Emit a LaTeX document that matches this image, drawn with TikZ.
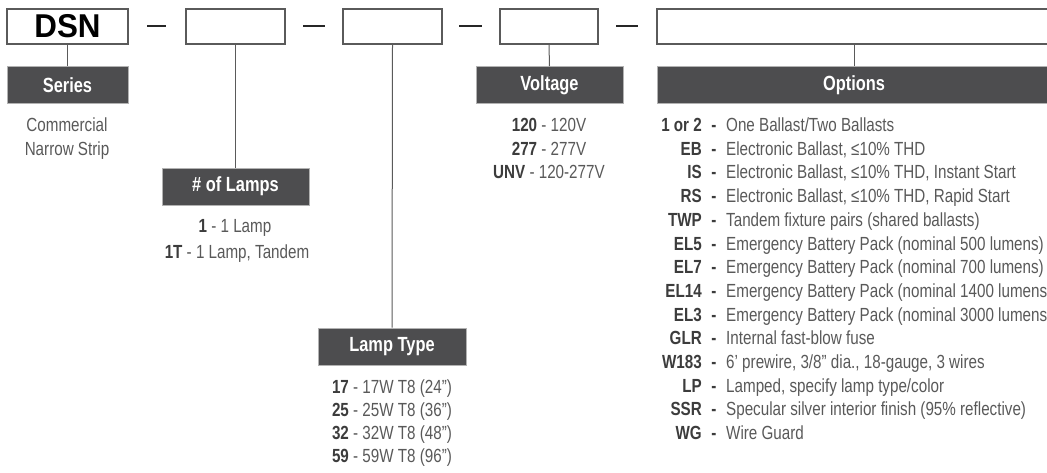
\documentclass[tikz,border=0pt]{standalone}
\usepackage{fontspec}
\setmainfont[FakeStretch=0.8]{Liberation Sans}
\newfontfamily\widefont[FakeStretch=0.95]{Liberation Sans}
\usepackage{xcolor}
\usepackage{tikz}
\usetikzlibrary{positioning}
\definecolor{hdrgray}{HTML}{4D4D4F}
\definecolor{txtgray}{HTML}{595959}
\definecolor{codegray}{HTML}{3C3C3C}
\definecolor{boxgray}{HTML}{5A5A5A}

\begin{document}
\begin{tikzpicture}[x=1pt, y=-1pt,
    codebox/.style={draw=boxgray, line width=2pt, fill=white, minimum height=35pt, inner sep=0pt},
    header/.style={fill=hdrgray, draw=gray!60, line width=0.6pt, minimum height=37pt, inner sep=0pt,
        text=white, font=\fontsize{20.5}{24}\selectfont\bfseries},
    sepdash/.style={line width=2pt, draw=black!85},
    wire/.style={draw=boxgray, line width=1pt},
    item/.style={text=txtgray, font=\fontsize{19}{22}\selectfont, inner sep=0pt, text height=13pt, text depth=0pt}]
    \clip (0,0) rectangle (1047,472);

    % Casillas del codigo
    \node[codebox, minimum width=121pt, font=\widefont\fontsize{33}{36}\selectfont\bfseries] (dsn) at (67.5,26.5) {DSN};
    \node[codebox, minimum width=99pt] (lamps) at (235.5,26.5) {};
    \node[codebox, minimum width=99pt] (ltype) at (392.5,26.5) {};
    \node[codebox, minimum width=98pt] (volt) at (549,26.5) {};
    \node[codebox, minimum width=394pt] (opts) at (854,26.5) {};

    % Guiones
    \coordinate (d1a) at (147,26); \coordinate (d1b) at (166,26);
    \coordinate (d2a) at (303,26); \coordinate (d2b) at (325,26);
    \coordinate (d3a) at (459,26); \coordinate (d3b) at (482,26);
    \coordinate (d4a) at (616,26); \coordinate (d4b) at (638,26);
    \draw[sepdash] (d1a) -- (d1b);
    \draw[sepdash] (d2a) -- (d2b);
    \draw[sepdash] (d3a) -- (d3b);
    \draw[sepdash] (d4a) -- (d4b);

    % Encabezados
    \node[header, minimum width=121pt] (hseries) at (67.5,85) {Series};
    \node[header, minimum width=147pt] (hlamps) at (235.5,186.5) {\# of Lamps};
    \node[header, minimum width=148pt] (htype) at (392,346.5) {Lamp Type};
    \node[header, minimum width=147pt] (hvolt) at (549.5,85) {Voltage};
    \node[header, minimum width=394pt] (hopts) at (854,85) {Options};

    % Lineas
    \draw[wire] (dsn.south) -- (hseries.north);
    \draw[wire] (lamps.south) -- (hlamps.north);
    \draw[wire] (ltype.south) -- (htype.north);
    \draw[wire] (volt.south) -- (hvolt.north);
    \draw[wire] (opts.south) -- (hopts.north);

    % Series
    \node[item] (ser1) at (67,125) {Commercial};
    \node[item] (ser2) at (67,149) {Narrow Strip};

    % Lamparas
    \node[item] (lmp1) at (235,226) {\textcolor{codegray}{\bfseries 1} - 1 Lamp};
    \node[item] (lmp2) at (237,252) {\textcolor{codegray}{\bfseries 1T} - 1 Lamp, Tandem};

    % Tipo de lampara
    \node[item] (typ1) at (392,387) {\textcolor{codegray}{\bfseries 17} - 17W T8 (24”)};
    \node[item] (typ2) at (392,410) {\textcolor{codegray}{\bfseries 25} - 25W T8 (36”)};
    \node[item] (typ3) at (392,433) {\textcolor{codegray}{\bfseries 32} - 32W T8 (48”)};
    \node[item] (typ4) at (392,456) {\textcolor{codegray}{\bfseries 59} - 59W T8 (96”)};

    % Voltaje
    \node[item] (vlt1) at (549,125) {\textcolor{codegray}{\bfseries 120} - 120V};
    \node[item] (vlt2) at (549,148.5) {\textcolor{codegray}{\bfseries 277} - 277V};
    \node[item] (vlt3) at (549,172) {\textcolor{codegray}{\bfseries UNV} - 120-277V};

    % Opciones
    \foreach \code/\desc [count=\i from 0] in {
        {1 or 2}/{One Ballast/Two Ballasts},
        EB/{Electronic Ballast, ≤10\% THD},
        IS/{Electronic Ballast, ≤10\% THD, Instant Start},
        RS/{Electronic Ballast, ≤10\% THD, Rapid Start},
        TWP/{Tandem fixture pairs (shared ballasts)},
        EL5/{Emergency Battery Pack (nominal 500 lumens)},
        EL7/{Emergency Battery Pack (nominal 700 lumens)},
        EL14/{Emergency Battery Pack (nominal 1400 lumens)},
        EL3/{Emergency Battery Pack (nominal 3000 lumens)},
        GLR/{Internal fast-blow fuse},
        W183/{6’ prewire, 3/8” dia., 18-gauge, 3 wires},
        LP/{Lamped, specify lamp type/color},
        SSR/{Specular silver interior finish (95\% reflective)},
        WG/{Wire Guard}} {
        \node[item, anchor=east, text=codegray, font=\fontsize{19}{22}\selectfont\bfseries] (oc\i) at (702,{125+23.7*\i}) {\code};
        \node[item, text=codegray, font=\fontsize{19}{22}\selectfont\bfseries] (od\i) at (714,{125+23.7*\i}) {-};
        \node[item, anchor=west] (ot\i) at (726,{125+23.7*\i}) {\desc};
    }
\end{tikzpicture}
\end{document}
